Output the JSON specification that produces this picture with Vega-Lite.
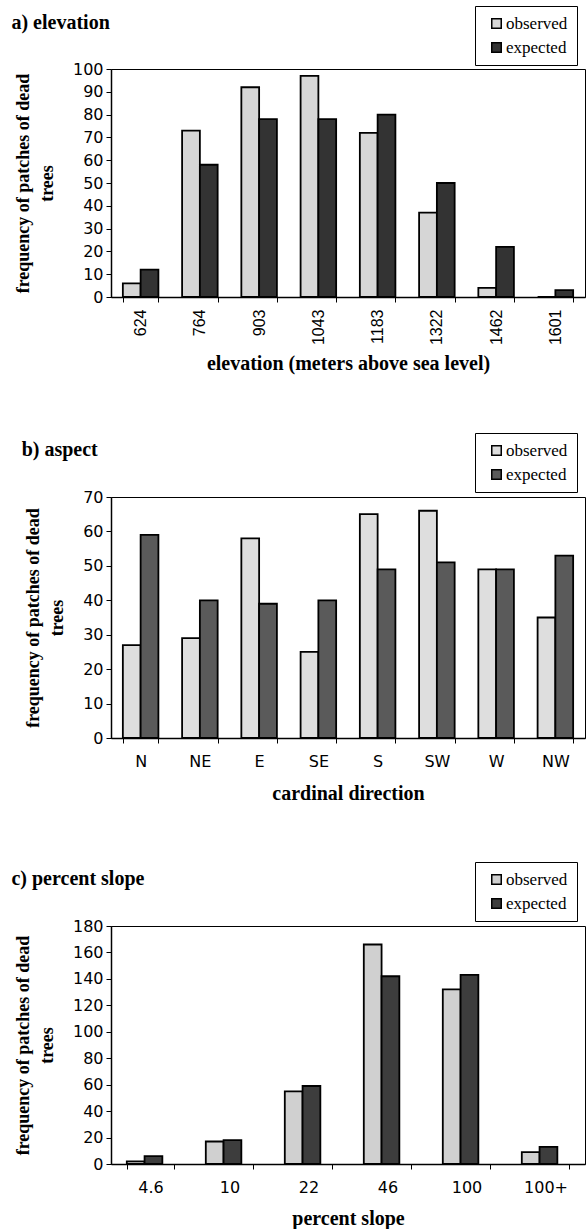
{
  "$schema": "https://vega.github.io/schema/vega-lite/v6.json",
  "background": "white",
  "padding": {"left": 10, "top": 5, "right": 0, "bottom": 0},
  "datasets": {
    "elev": [
      {"elevation": "624", "series": "observed", "frequency": 6},
      {"elevation": "624", "series": "expected", "frequency": 12},
      {"elevation": "764", "series": "observed", "frequency": 73},
      {"elevation": "764", "series": "expected", "frequency": 58},
      {"elevation": "903", "series": "observed", "frequency": 92},
      {"elevation": "903", "series": "expected", "frequency": 78},
      {"elevation": "1043", "series": "observed", "frequency": 97},
      {"elevation": "1043", "series": "expected", "frequency": 78},
      {"elevation": "1183", "series": "observed", "frequency": 72},
      {"elevation": "1183", "series": "expected", "frequency": 80},
      {"elevation": "1322", "series": "observed", "frequency": 37},
      {"elevation": "1322", "series": "expected", "frequency": 50},
      {"elevation": "1462", "series": "observed", "frequency": 4},
      {"elevation": "1462", "series": "expected", "frequency": 22},
      {"elevation": "1601", "series": "observed", "frequency": 0},
      {"elevation": "1601", "series": "expected", "frequency": 3}
    ],
    "aspect": [
      {"direction": "N", "series": "observed", "frequency": 27},
      {"direction": "N", "series": "expected", "frequency": 59},
      {"direction": "NE", "series": "observed", "frequency": 29},
      {"direction": "NE", "series": "expected", "frequency": 40},
      {"direction": "E", "series": "observed", "frequency": 58},
      {"direction": "E", "series": "expected", "frequency": 39},
      {"direction": "SE", "series": "observed", "frequency": 25},
      {"direction": "SE", "series": "expected", "frequency": 40},
      {"direction": "S", "series": "observed", "frequency": 65},
      {"direction": "S", "series": "expected", "frequency": 49},
      {"direction": "SW", "series": "observed", "frequency": 66},
      {"direction": "SW", "series": "expected", "frequency": 51},
      {"direction": "W", "series": "observed", "frequency": 49},
      {"direction": "W", "series": "expected", "frequency": 49},
      {"direction": "NW", "series": "observed", "frequency": 35},
      {"direction": "NW", "series": "expected", "frequency": 53}
    ],
    "slope": [
      {"slope": "4.6", "series": "observed", "frequency": 2},
      {"slope": "4.6", "series": "expected", "frequency": 6},
      {"slope": "10", "series": "observed", "frequency": 17},
      {"slope": "10", "series": "expected", "frequency": 18},
      {"slope": "22", "series": "observed", "frequency": 55},
      {"slope": "22", "series": "expected", "frequency": 59},
      {"slope": "46", "series": "observed", "frequency": 166},
      {"slope": "46", "series": "expected", "frequency": 142},
      {"slope": "100", "series": "observed", "frequency": 132},
      {"slope": "100", "series": "expected", "frequency": 143},
      {"slope": "100+", "series": "observed", "frequency": 9},
      {"slope": "100+", "series": "expected", "frequency": 13}
    ]
  },
  "concat": [
    {
      "title": {"text": "a) elevation", "offset": -27, "dx": -3},
      "width": 474,
      "height": 228,
      "data": {"name": "elev"},
      "mark": {"type": "bar", "stroke": "black", "strokeWidth": 1.8},
      "encoding": {
        "x": {"field": "elevation", "type": "ordinal", "sort": null,
              "scale": {"paddingInner": 0.4, "paddingOuter": 0.2},
              "axis": {"title": "elevation (meters above sea level)", "labelAngle": -90, "labelFont": "Liberation Sans", "labelFontSize": 16, "labelPadding": 7, "titlePadding": 9}},
        "xOffset": {"field": "series", "sort": ["observed", "expected"]},
        "y": {"field": "frequency", "type": "quantitative",
              "scale": {"domain": [0, 100], "nice": false},
              "axis": {"values": [0, 10, 20, 30, 40, 50, 60, 70, 80, 90, 100], "title": ["frequency of patches of dead", "trees"]}},
        "color": {"field": "series", "type": "nominal",
                  "scale": {"domain": ["observed", "expected"], "range": ["#d6d6d6", "#333333"]},
                  "legend": {"title": null, "orient": "none", "legendX": 364, "legendY": -63}}
      }
    },
    {
      "title": {"text": "b) aspect", "offset": -27, "dx": -3},
      "width": 474,
      "height": 241,
      "data": {"name": "aspect"},
      "mark": {"type": "bar", "stroke": "black", "strokeWidth": 1.8},
      "encoding": {
        "x": {"field": "direction", "type": "ordinal", "sort": null,
              "scale": {"paddingInner": 0.4, "paddingOuter": 0.2},
              "axis": {"title": "cardinal direction", "labelAngle": 0, "labelPadding": 10, "titlePadding": 14}},
        "xOffset": {"field": "series", "sort": ["observed", "expected"]},
        "y": {"field": "frequency", "type": "quantitative",
              "scale": {"domain": [0, 70], "nice": false},
              "axis": {"values": [0, 10, 20, 30, 40, 50, 60, 70], "title": ["frequency of patches of dead", "trees"]}},
        "color": {"field": "series", "type": "nominal",
                  "scale": {"domain": ["observed", "expected"], "range": ["#dedede", "#5a5a5a"]},
                  "legend": {"title": null, "orient": "none", "legendX": 364, "legendY": -64}}
      }
    },
    {
      "title": {"text": "c) percent slope", "offset": -27, "dx": -3},
      "width": 474,
      "height": 238,
      "data": {"name": "slope"},
      "mark": {"type": "bar", "stroke": "black", "strokeWidth": 1.8},
      "encoding": {
        "x": {"field": "slope", "type": "ordinal", "sort": null,
              "scale": {"paddingInner": 0.4, "paddingOuter": 0.2},
              "axis": {"title": "percent slope", "labelAngle": 0, "labelPadding": 10, "titlePadding": 13}},
        "xOffset": {"field": "series", "sort": ["observed", "expected"]},
        "y": {"field": "frequency", "type": "quantitative",
              "scale": {"domain": [0, 180], "nice": false},
              "axis": {"values": [0, 20, 40, 60, 80, 100, 120, 140, 160, 180], "title": ["frequency of patches of dead", "trees"]}},
        "color": {"field": "series", "type": "nominal",
                  "scale": {"domain": ["observed", "expected"], "range": ["#d0d0d0", "#3d3d3d"]},
                  "legend": {"title": null, "orient": "none", "legendX": 364, "legendY": -64}}
      }
    }
  ],
  "columns": 1,
  "spacing": 57,
  "resolve": {"scale": {"color": "independent"}, "legend": {"color": "independent"}},
  "config": {
    "view": {"stroke": "black", "strokeWidth": 1},
    "title": {"font": "Liberation Serif", "fontSize": 20, "fontWeight": "bold", "color": "black", "anchor": "start", "frame": "bounds"},
    "axis": {
      "grid": false,
      "domainColor": "black", "domainWidth": 1.5,
      "tickColor": "black", "tickWidth": 1, "tickSize": 5,
      "labelColor": "black", "labelFont": "DejaVu Sans", "labelFontSize": 16,
      "titleColor": "black", "titleFont": "Liberation Serif", "titleFontSize": 20, "titleFontWeight": "bold"
    },
    "axisX": {"tickBand": "extent"},
    "axisY": {"titlePadding": 16, "titleLineHeight": 24, "labelPadding": 3, "titleFontSize": 18},
    "legend": {
      "strokeColor": "black", "fillColor": "white", "padding": 9,
      "symbolType": "square", "symbolSize": 90, "symbolStrokeColor": "black", "symbolStrokeWidth": 1.5,
      "symbolOffset": 4, "labelOffset": 1,
      "labelFont": "Liberation Serif", "labelFontSize": 17, "labelColor": "black", "rowPadding": 6
    }
  }
}
